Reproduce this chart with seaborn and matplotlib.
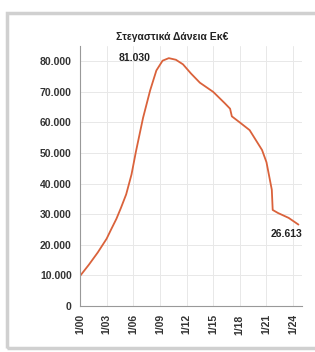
import pandas as pd
import matplotlib.pyplot as plt
import matplotlib.patches as patches
import seaborn as sns

# Housing loans (million EUR)
years = [2000.0, 2001.0, 2002.0, 2003.0, 2003.5, 2004.1, 2004.6, 2005.2, 2005.8, 2006.3,
         2007.1, 2007.9, 2008.6, 2009.3, 2010.0, 2010.8, 2011.6, 2012.5, 2013.5, 2015.0,
         2016.3, 2016.9, 2017.1, 2018.0, 2019.1, 2020.5, 2021.0, 2021.6, 2021.7, 2022.3,
         2023.5, 2024.6]
loans = [9800, 13500, 17500, 22000, 25000, 28500, 32000, 36500, 43000, 50500,
         61500, 70500, 77000, 80200, 81030, 80500, 79000, 76000, 73000, 70000,
         66300, 64500, 62000, 60000, 57500, 51000, 47000, 38000, 31400, 30400,
         28800, 26613]
tick_years = [2000, 2003, 2006, 2009, 2012, 2015, 2018, 2021, 2024]
tick_labels = ["1/00", "1/03", "1/06", "1/09", "1/12", "1/15", "1/18", "1/21", "1/24"]
y_ticks = [0, 10000, 20000, 30000, 40000, 50000, 60000, 70000, 80000]
y_labels = ["0", "10.000", "20.000", "30.000", "40.000", "50.000", "60.000", "70.000", "80.000"]

df = pd.DataFrame({"year": years, "loans": loans})

sns.set_style("white")
plt.rcParams['font.family'] = ['Liberation Sans', 'DejaVu Sans']

fig = plt.figure(figsize=(3.15, 3.52), dpi=100)

# light grey frame around the chart
fig.patches.append(patches.Rectangle((7 / 315, 4 / 352), 1.0, 335 / 352, transform=fig.transFigure,
                                     fill=False, edgecolor='#d0d0d0', linewidth=2.5))

ax = fig.add_axes([80 / 315, 46 / 352, 222 / 315, 260 / 352])
sns.lineplot(data=df, x="year", y="loans", ax=ax, color='#da623b', linewidth=1.3)

ax.set_xlim(2000, 2025)
ax.set_ylim(0, 85000)
ax.set_xticks(tick_years)
ax.set_xticklabels(tick_labels, rotation=90, fontsize=7.5, fontweight='bold', color='#333333')
ax.set_yticks(y_ticks)
ax.set_yticklabels(y_labels, fontsize=7.5, fontweight='bold', color='#333333')
ax.set_xlabel("")
ax.set_ylabel("")
ax.grid(True, color='#e8e8e8', linewidth=0.7)
ax.tick_params(length=3, width=0.6, color='#999999', pad=3)
for s in ["top", "right"]:
    ax.spines[s].set_visible(False)
for s in ["left", "bottom"]:
    ax.spines[s].set_color('#999999')
    ax.spines[s].set_linewidth(0.8)

ax.text(2006.2, 81030, "81.030", fontsize=7.5, fontweight='bold', ha='center', va='center', color='#222222')
ax.text(2023.3, 23600, "26.613", fontsize=7.5, fontweight='bold', ha='center', va='center', color='#222222')
fig.text(172 / 315, 1 - 37 / 352, "Στεγαστικά Δάνεια Εκ€", fontsize=7.5, fontweight='bold',
         ha='center', va='center', color='#222222')

fig.savefig("out.png", dpi=100)
